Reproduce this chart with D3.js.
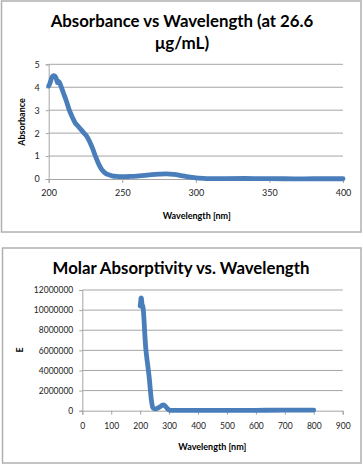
<!DOCTYPE html>
<html lang="en">
<head>
<meta charset="UTF-8">
<title>Absorbance charts</title>
<script src="https://d3js.org/d3.v7.min.js"></script>
<style>
    body { margin: 0; background: #fff; }
    svg { display: block; font-family: Lato, "Open Sans", sans-serif; }
</style>
</head>
<body>
<svg id="chart" width="363" height="465"></svg>
<script>
// absorbance spectrum (top chart)
const absNm = [200, 201, 202, 203, 204, 205, 206, 207, 208, 210, 212, 214, 216, 218, 220, 222, 224, 226, 228, 230,
    232, 234, 236, 238, 240, 243, 246, 250, 255, 260, 265, 270, 275, 280, 285, 290, 295, 300, 305, 310, 320, 340, 360, 380, 400];
const absVal = [4.05, 4.2, 4.4, 4.5, 4.5, 4.4, 4.2, 4.25, 4.1, 3.75, 3.4, 3.0, 2.7, 2.45, 2.3, 2.15, 2.0, 1.85, 1.6, 1.3,
    0.95, 0.65, 0.42, 0.28, 0.2, 0.14, 0.11, 0.1, 0.11, 0.13, 0.16, 0.19, 0.21, 0.22, 0.2, 0.15, 0.09, 0.05, 0.03, 0.02, 0.02, 0.02, 0.01, 0.01, 0.01];
const absYTicks = [0, 1, 2, 3, 4, 5];
const absXTicks = [200, 250, 300, 350, 400];

// molar absorptivity (bottom chart)
const molNm = [200, 202, 203, 204, 205, 207, 209, 212, 216, 220, 224, 228, 232, 236, 240, 244, 248, 252, 258, 264, 270, 276, 280, 285, 290, 296, 302, 310, 350, 400, 500, 600, 700, 750, 800];
const molE = [10400000, 10900000, 11200000, 11200000, 11000000, 10500000, 10400000, 9600000, 7600000, 6000000, 5000000, 4100000, 3100000, 1800000, 800000, 300000, 200000, 180000, 220000, 300000, 420000, 540000, 570000, 500000, 350000, 150000, 50000, 40000, 40000, 40000, 40000, 40000, 50000, 60000, 60000];
const molYTicks = [0, 2000000, 4000000, 6000000, 8000000, 10000000, 12000000];
const molXTicks = [0, 100, 200, 300, 400, 500, 600, 700, 800, 900];

const svg = d3.select('#chart');
const lineColor = '#4a7ebb';
const gridColor = '#a5a5a5';

// scale a text's font so it spans the given width
function fitWidth(sel, width) {
    const size = +sel.attr('font-size');
    const w = sel.node().getComputedTextLength();
    sel.attr('font-size', size * width / w);
}

function drawChart(cfg) {
    const g = svg.append('g');
    g.append('rect')
        .attr('x', cfg.frame[0]).attr('y', cfg.frame[1])
        .attr('width', cfg.frame[2]).attr('height', cfg.frame[3])
        .attr('fill', '#fff').attr('stroke', '#b0b0b0').attr('stroke-width', 1.5);

    const x = d3.scaleLinear().domain(cfg.xDomain).range([cfg.plot.left, cfg.plot.right]);
    const y = d3.scaleLinear().domain(cfg.yDomain).range([cfg.plot.bottom, cfg.plot.top]);

    // gridlines
    g.selectAll('.grid').data(cfg.yTicks.slice(1)).enter().append('line')
        .attr('x1', cfg.plot.left).attr('x2', cfg.plot.right)
        .attr('y1', d => y(d)).attr('y2', d => y(d))
        .attr('stroke', gridColor).attr('stroke-width', 1);

    const yAxis = g.append('g')
        .attr('transform', `translate(${cfg.plot.left},0)`)
        .call(d3.axisLeft(y).tickValues(cfg.yTicks).tickSize(3).tickPadding(cfg.yPad).tickFormat(d3.format('d')));
    const xAxis = g.append('g')
        .attr('transform', `translate(0,${cfg.plot.bottom})`)
        .call(d3.axisBottom(x).tickValues(cfg.xTicks).tickSize(4).tickPadding(cfg.xPad).tickFormat(d3.format('d')));
    [yAxis, xAxis].forEach(a => {
        a.select('.domain').attr('stroke', gridColor);
        a.selectAll('.tick line').attr('stroke', gridColor);
        a.selectAll('text').attr('font-family', 'Lato, sans-serif').attr('font-size', cfg.tickSize).attr('fill', '#222');
    });

    const line = d3.line().x(d => x(d[0])).y(d => y(d[1])).curve(d3.curveCatmullRom);
    g.append('path')
        .datum(d3.zip(cfg.xs, cfg.ys))
        .attr('d', line)
        .attr('fill', 'none').attr('stroke', lineColor)
        .attr('stroke-width', 4.8).attr('stroke-linejoin', 'round').attr('stroke-linecap', 'round');

    cfg.title.forEach(t => {
        const txt = g.append('text').attr('x', t.x).attr('y', t.y).attr('text-anchor', 'middle')
            .attr('font-weight', 'bold').attr('font-size', t.size).text(t.text);
        if (t.width) fitWidth(txt, t.width);
    });
    g.append('text').attr('x', cfg.xLabel[0]).attr('y', cfg.xLabel[1]).attr('text-anchor', 'middle')
        .attr('font-weight', 'bold').attr('font-size', 9).text('Wavelength [nm]');
    g.append('text').attr('transform', `translate(${cfg.yLabel[0]},${cfg.yLabel[1]}) rotate(-90)`)
        .attr('text-anchor', 'middle').attr('font-weight', 'bold').attr('font-size', 9).text(cfg.yLabel[2]);
}

drawChart({
    frame: [1.5, 1, 359.5, 231],
    plot: { left: 48.7, right: 343, top: 64.3, bottom: 179 },
    xDomain: [200, 400], yDomain: [0, 5],
    xTicks: absXTicks, yTicks: absYTicks,
    xs: absNm, ys: absVal,
    tickSize: 9, yPad: 6, xPad: 7,
    title: [
        { text: 'Absorbance vs Wavelength (at 26.6', x: 182, y: 26.7, size: 15, width: 263 },
        { text: 'μg/mL)', x: 182, y: 49, size: 17 }
    ],
    xLabel: [196.7, 219],
    yLabel: [25, 122, 'Absorbance']
});

drawChart({
    frame: [2.5, 248, 358.5, 215],
    plot: { left: 82.3, right: 342.7, top: 290, bottom: 410.7 },
    xDomain: [0, 900], yDomain: [0, 12000000],
    xTicks: molXTicks, yTicks: molYTicks,
    xs: molNm, ys: molE,
    tickSize: 8.5, yPad: 6, xPad: 8,
    title: [
        { text: 'Molar Absorptivity vs. Wavelength', x: 181, y: 273.7, size: 17, width: 257 }
    ],
    xLabel: [212.3, 450],
    yLabel: [23, 350, 'E']
});
</script>
</body>
</html>
